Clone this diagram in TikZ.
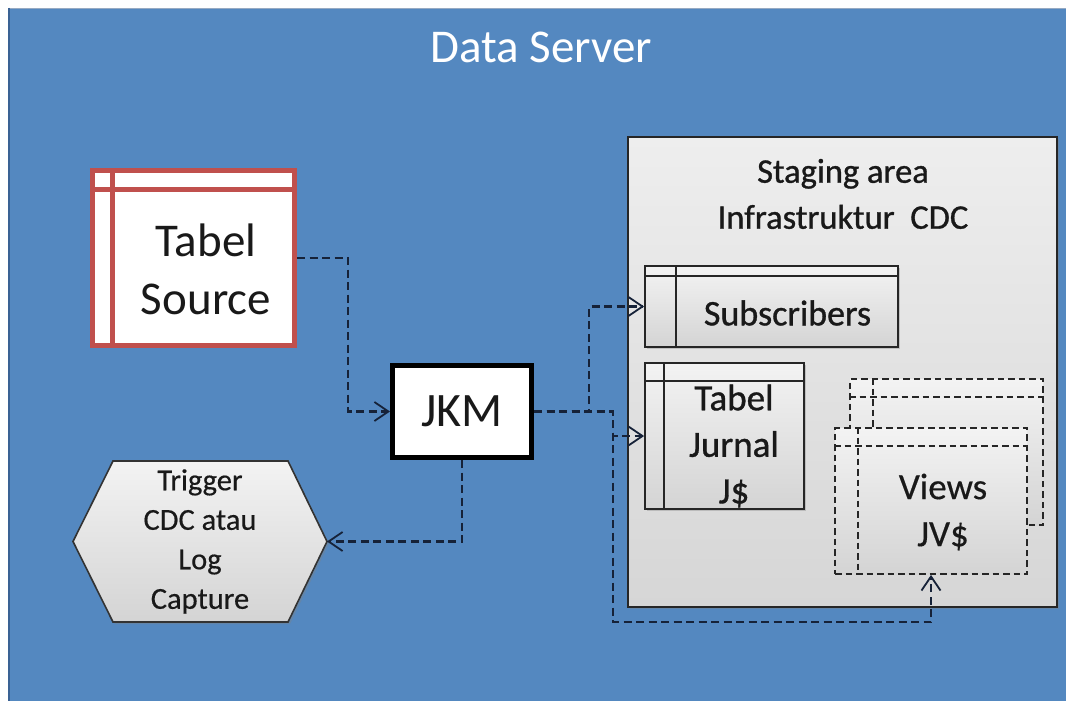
\documentclass[tikz,border=0pt]{standalone}
\usepackage{fontspec}
\setmainfont{Carlito}
\newfontfamily\medf{Carlito}[FakeBold=0.9]
\newfontfamily\semf{Carlito}[FakeBold=0.4]
\usetikzlibrary{arrows.meta,calc,shadows}
\definecolor{bgblue}{RGB}{84,136,192}
\definecolor{bgedge}{RGB}{58,98,148}
\definecolor{bgtop}{RGB}{150,170,195}
\definecolor{srcred}{RGB}{192,80,77}
\definecolor{linenavy}{RGB}{22,34,56}
\definecolor{gtop}{RGB}{243,243,243}
\definecolor{gbot}{RGB}{212,212,212}
\definecolor{stop}{RGB}{238,238,238}
\definecolor{sbot}{RGB}{214,214,214}
\tikzset{
  conn/.style={draw=linenavy, line width=2.5pt, dash pattern=on 8pt off 4.5pt,
    -{Straight Barb[length=14pt,width=19pt,line width=1.8pt]}},
  shade/.style={drop shadow={opacity=0.35, shadow xshift=2pt, shadow yshift=-2pt}},
  tblbox/.style={rectangle, draw=black!85, line width=1.8pt, top color=gtop, bottom color=gbot, inner sep=0pt, shade},
  tblline/.style={draw=black!85, line width=1.8pt},
  viewbox/.style={rectangle, draw=black!85, line width=1.8pt, dash pattern=on 6.5pt off 4pt, top color=gtop, bottom color=gbot, inner sep=0pt},
  viewline/.style={draw=black!85, line width=1.8pt, dash pattern=on 6.5pt off 4pt},
  txt/.style={align=center, inner sep=0pt, text=black!90},
}
\begin{document}
\begin{tikzpicture}[x=1pt,y=-1pt]
\useasboundingbox (0,0) rectangle (1066,701);
% background frame
\fill[white] (0,0) rectangle (1066,701);
\fill[bgblue] (8,8) rectangle (1066,701);
\draw[bgtop, line width=1.5pt] (8,8.75) -- (1066,8.75);
\draw[bgedge, line width=2pt] (9,8) -- (9,701);
\node[txt, text=white, font=\fontsize{47}{52}\selectfont] (title) at (541,47) {Data Server};

% Tabel Source
\node[rectangle, draw=srcred, line width=5pt, fill=white, minimum width=202pt, minimum height=175pt, inner sep=0pt] (src) at (193.5,258) {};
\draw[srcred, line width=5pt] ($(src.north west)+(0,21.5)$) -- ($(src.north east)+(0,21.5)$);
\draw[srcred, line width=5pt] ($(src.north west)+(22.5,0)$) -- ($(src.south west)+(22.5,0)$);
\node[txt, font=\fontsize{47}{58}\selectfont] (srct) at (206,269) {Tabel\\Source};

% JKM
\node[rectangle, draw=black, line width=5pt, fill=white, minimum width=139pt, minimum height=92pt, inner sep=0pt, font=\fontsize{48}{52}\selectfont, text=black!90] (jkm) at (462,411.5) {JKM};

% Hexagon
\coordinate (hexc) at (200,541.5);
\coordinate (hexE) at (327,541.5);
\filldraw[draw=black!80, line width=1.6pt, top color=gtop, bottom color=gbot, drop shadow={opacity=0.35, shadow xshift=2pt, shadow yshift=-2pt}]
  (73,541.5) -- (113,461) -- (288,461) -- (hexE) -- (288,622) -- (113,622) -- cycle;
\node[txt, font=\semf\fontsize{30.5}{39.5}\selectfont] (hex) at (hexc) {Trigger\\CDC atau\\Log\\Capture};

% Staging area
\node[rectangle, draw=black!85, line width=1.8pt, top color=stop, bottom color=sbot, minimum width=429pt, minimum height=470pt, inner sep=0pt, shade] (stg) at (842.5,372) {};
\node[txt, font=\medf\fontsize{34.5}{46}\selectfont] (stgt) at (843,194) {Staging area\\Infrastruktur~\ CDC};

% Subscribers
\node[tblbox, minimum width=253pt, minimum height=81pt] (sub) at (771.5,306.5) {};
\draw[tblline] ($(sub.north west)+(0,11)$) -- ($(sub.north east)+(0,11)$);
\draw[tblline] ($(sub.north west)+(32,0)$) -- ($(sub.south west)+(32,0)$);
\node[txt, font=\medf\fontsize{36}{40}\selectfont] (subt) at (787.5,313) {Subscribers};

% Tabel Jurnal
\node[tblbox, minimum width=159pt, minimum height=146pt] (tj) at (724.5,436) {};
\draw[tblline] ($(tj.north west)+(0,19)$) -- ($(tj.north east)+(0,19)$);
\draw[tblline] ($(tj.north west)+(20,0)$) -- ($(tj.south west)+(20,0)$);
\node[txt, font=\medf\fontsize{37}{46.5}\selectfont] (tjt) at (734,446) {Tabel\\Jurnal\\J\$};

% Views (stacked)
\node[viewbox, minimum width=193pt, minimum height=146pt] (vb) at (946.5,452) {};
\draw[viewline] ($(vb.north west)+(0,19)$) -- ($(vb.north east)+(0,19)$);
\draw[viewline] ($(vb.north west)+(24,0)$) -- ($(vb.south west)+(24,0)$);
\node[viewbox, minimum width=192pt, minimum height=146pt] (vf) at (931,501) {};
\draw[viewline] ($(vf.north west)+(0,19)$) -- ($(vf.north east)+(0,19)$);
\draw[viewline] ($(vf.north west)+(24,0)$) -- ($(vf.south west)+(24,0)$);
\node[txt, font=\semf\fontsize{37}{47}\selectfont] (vt) at (943,512) {Views\\JV\$};

% Connectors
\draw[conn] (src.east) -- ++(51,0) |- (jkm.west);
\draw[conn] (jkm.south) |- (hexE);
\draw[conn] (jkm.east) -- ++(55,0) |- (sub.west);
\draw[conn] (jkm.east) -- ++(79,0) |- (tj.west);
\draw[conn] (jkm.east) -- ++(79,0) -- ++(0,210.5) -| (vf.south);
\end{tikzpicture}
\end{document}
